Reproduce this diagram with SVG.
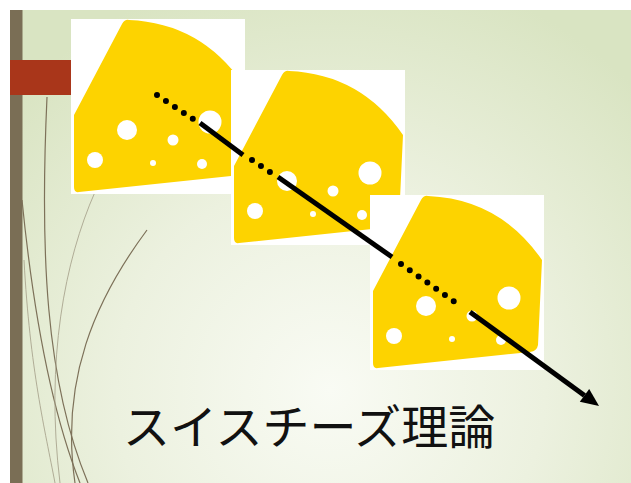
<svg xmlns="http://www.w3.org/2000/svg" xmlns:xlink="http://www.w3.org/1999/xlink" width="631" height="483" viewBox="0 0 631 483">
  <style>
    .wisp { fill: none; stroke: #7d7159; stroke-width: 1.2; }
    .wisp-faint { fill: none; stroke: #a9a58e; stroke-width: 0.9; }
    .cheese-box { fill: #ffffff; }
    .cheese-body { fill: #fdd300; }
    .hole { fill: #ffffff; }
    .solid { fill: none; stroke: #000000; stroke-width: 5; stroke-linecap: butt; }
    .dotted { fill: none; stroke: #000000; stroke-width: 6; stroke-linecap: round; stroke-dasharray: 0 10.75; }
    .title { font-family: "Noto Sans CJK JP", "Noto Sans", sans-serif; font-size: 47px; fill: #111111; }
  </style>
  <defs>
    <radialGradient id="bg-grad" gradientUnits="userSpaceOnUse" cx="330" cy="390" r="430">
      <stop offset="0" stop-color="#f9fbf4"/>
      <stop offset="0.5" stop-color="#ecf1df"/>
      <stop offset="1" stop-color="#d9e4c2"/>
    </radialGradient>
    <!-- one wedge of cheese on its white tile, 174 x 175 -->
    <symbol id="cheese" viewBox="0 0 174 175" width="174" height="175">
      <rect class="cheese-box" x="0" y="0" width="174" height="175"/>
      <path class="cheese-body" d="M58 1 Q130 4 172 65 L168 150 Q167 156 160 157 L8 173 Q3 174 3 168 L3 96 L51 5 Q54 0 58 1 Z"/>
      <circle class="hole" cx="56" cy="111" r="10"/>
      <circle class="hole" cx="139" cy="103" r="11.5"/>
      <circle class="hole" cx="24" cy="141" r="8"/>
      <circle class="hole" cx="82" cy="144" r="3"/>
      <circle class="hole" cx="102" cy="121" r="5.5"/>
      <circle class="hole" cx="131" cy="145" r="5"/>
    </symbol>
    <marker id="arrowhead" markerUnits="userSpaceOnUse" markerWidth="20" markerHeight="20" refX="0" refY="0" viewBox="0 -10 20 20" orient="auto" overflow="visible">
      <path d="M0 -8 L18 0 L0 8 Z" fill="#000000"/>
    </marker>
  </defs>

  <!-- slide background -->
  <g id="background">
    <rect x="0" y="0" width="631" height="483" fill="#ffffff"/>
    <rect x="10" y="10" width="621" height="473" fill="url(#bg-grad)"/>
    <rect x="10" y="10" width="12.5" height="473" fill="#7a6e55"/>
    <path class="wisp" d="M47 97 C40 250 45 380 88 483"/>
    <path class="wisp" d="M22 200 C35 330 55 420 80 483"/>
    <path class="wisp" d="M147 230 C95 300 60 380 75 483"/>
    <path class="wisp-faint" d="M95 192 C65 260 45 360 60 483"/>
    <path class="wisp-faint" d="M24 260 C30 370 45 430 55 483"/>
    <rect x="10" y="60" width="62" height="35" fill="#a9361a"/>
  </g>

  <g id="cheese-1"><use xlink:href="#cheese" x="71" y="19"/></g>
  <g id="cheese-2"><use xlink:href="#cheese" x="231" y="70"/></g>
  <g id="cheese-3"><use xlink:href="#cheese" x="370" y="195"/></g>

  <!-- the accident path: dotted where it passes through a hole, solid where it is stopped -->
  <g id="connectors">
    <path class="dotted" d="M157 95 L193 119"/>
    <path class="solid" d="M200 123 L243 155"/>
    <path class="dotted" d="M252 160 L270 172"/>
    <path class="solid" d="M278 177 L392 257"/>
    <path class="dotted" d="M401 264 L462 307"/>
    <path class="solid" d="M470 312 L584.5 395.4" marker-end="url(#arrowhead)"/>
  </g>

  <g id="title">
    <text class="title" x="123" y="444">スイスチーズ理論</text>
  </g>
</svg>
